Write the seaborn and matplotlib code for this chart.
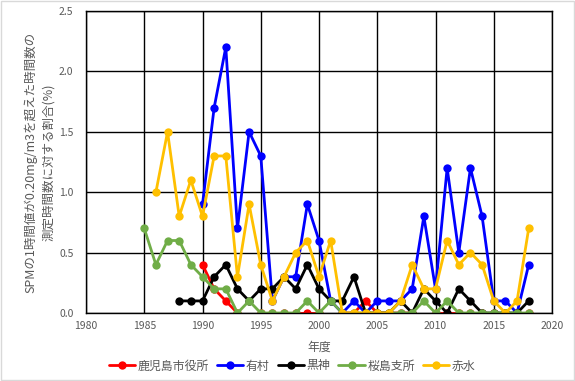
import numpy as np
import pandas as pd
import matplotlib
matplotlib.use("Agg")
import matplotlib.pyplot as plt
import seaborn as sns
from matplotlib.patches import Rectangle

# ---- data ----
series_names = ["鹿児島市役所", "有村", "黒神", "桜島支所", "赤水"]
colors = ["#FF0000", "#0000FF", "#000000", "#70AD47", "#FFC000"]
nan = np.nan

years_kagoshima = list(range(1990, 2019))
kagoshima = [0.4, 0.2, 0.1, 0.0, nan, 0.0, 0.0, 0.0, 0.0, 0.0,
             0.0, nan, 0.0, 0.0, 0.1, 0.0, 0.0, 0.0, 0.0, nan,
             0.0, 0.0, 0.0, 0.0, 0.0, 0.0, 0.0, 0.0, 0.0]

years_arimura = list(range(1990, 2019))
arimura = [0.9, 1.7, 2.2, 0.7, 1.5, 1.3, 0.1, 0.3, 0.3, 0.9,
           0.6, 0.1, 0.0, 0.1, 0.0, 0.1, 0.1, 0.1, 0.2, 0.8,
           0.2, 1.2, 0.5, 1.2, 0.8, 0.1, 0.1, 0.0, 0.4]

years_kurokami = list(range(1988, 2019))
kurokami = [0.1, 0.1, 0.1, 0.3, 0.4, 0.2, 0.1, 0.2, 0.2, 0.3,
            0.2, 0.4, 0.2, 0.1, 0.1, 0.3, 0.0, 0.0, 0.0, 0.1,
            0.0, 0.2, 0.1, 0.0, 0.2, 0.1, 0.0, 0.0, 0.0, 0.0, 0.1]

years_sakurajima = list(range(1985, 2019))
sakurajima = [0.7, 0.4, 0.6, 0.6, 0.4, 0.3, 0.2, 0.2, 0.0, 0.1,
              0.0, 0.0, 0.0, 0.0, 0.1, 0.0, 0.1, 0.0, 0.0, 0.0,
              0.0, 0.0, 0.0, 0.0, 0.1, 0.0, 0.1, 0.0, 0.0, 0.0,
              0.0, 0.0, 0.0, 0.0]

years_akamizu = list(range(1986, 2019))
akamizu = [1.0, 1.5, 0.8, 1.1, 0.8, 1.3, 1.3, 0.3, 0.9, 0.4,
           0.1, 0.3, 0.5, 0.6, 0.3, 0.6, 0.0, 0.0, 0.0, 0.0,
           0.0, 0.1, 0.4, 0.2, 0.2, 0.6, 0.4, 0.5, 0.4, 0.1,
           0.0, 0.1, 0.7]

x_ticks = [1980, 1985, 1990, 1995, 2000, 2005, 2010, 2015, 2020]
y_ticks = [0.0, 0.5, 1.0, 1.5, 2.0, 2.5]
x_label = "年度"
y_label = "SPMの1時間値が0.20mg/m3を超えた時間数の\n測定時間数に対する割合(%)"

frames = []
for name, yrs, vals in zip(series_names,
                           [years_kagoshima, years_arimura, years_kurokami, years_sakurajima, years_akamizu],
                           [kagoshima, arimura, kurokami, sakurajima, akamizu]):
    d = pd.DataFrame({"year": yrs, "value": vals, "site": name})
    # separate unit id for each run of present values (gaps break the line)
    d["seg"] = name + "_" + d["value"].isna().cumsum().astype(str)
    frames.append(d.dropna())
df = pd.concat(frames, ignore_index=True)

# ---- plot ----
sns.set_style("white")
plt.rcParams['font.family'] = ['Noto Sans CJK JP', 'DejaVu Sans']

fig = plt.figure(figsize=(5.75, 3.81), dpi=100)
ax = fig.add_axes([86/575, 1 - 313/381, (552 - 86)/575, (313 - 11)/381])

sns.lineplot(data=df, x="year", y="value", hue="site", hue_order=series_names,
             units="seg", palette=colors, marker="o", markersize=6, markeredgewidth=0,
             linewidth=2, ax=ax, legend=False, estimator=None, sort=False)

ax.set_xlim(1980, 2020)
ax.set_ylim(0, 2.5)
ax.set_xticks(x_ticks)
ax.set_yticks(y_ticks)
ax.set_yticklabels([f"{v:.1f}" for v in y_ticks])
ax.grid(True, color="black", linewidth=1)
ax.set_axisbelow(True)
for s in ax.spines.values():
    s.set_color("black")
    s.set_linewidth(1)
ax.tick_params(axis="both", length=0, labelsize=7.5, labelcolor="#595959")
ax.tick_params(axis="y", pad=9)
ax.tick_params(axis="x", pad=6)

ax.set_xlabel(x_label, fontsize=8.6, color="#595959", labelpad=7)
ax.set_ylabel(y_label, fontsize=9.0, color="#595959", labelpad=3, linespacing=1.45)

handles = [plt.Line2D([], [], color=c, marker="o", markersize=6, markeredgewidth=0, linewidth=2)
           for c in colors]
fig.legend(handles, series_names, loc="center", bbox_to_anchor=(292/575, 1 - 366/381),
           ncol=5, frameon=False, fontsize=8.6, labelcolor="#595959",
           handlelength=2.2, handletextpad=0.2, columnspacing=0.7)

fig.patches.append(Rectangle((0.002, 0.002), 0.996, 0.996, transform=fig.transFigure,
                             fill=False, edgecolor="#D9D9D9", linewidth=1))

fig.savefig("out.png", dpi=100)
